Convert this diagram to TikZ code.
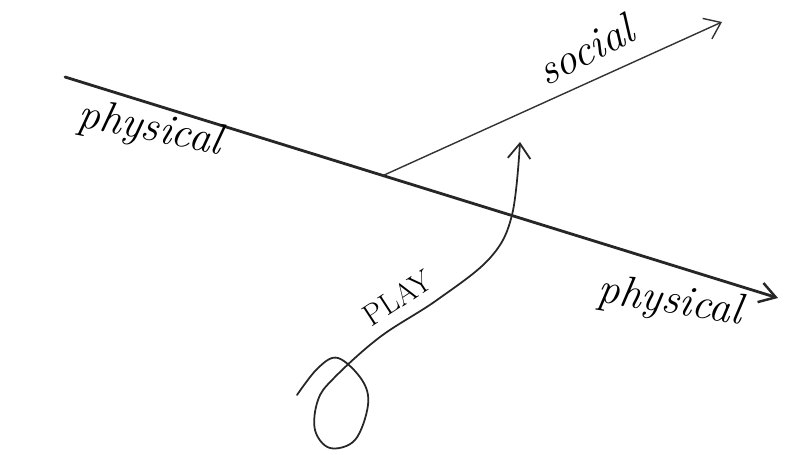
\documentclass[tikz,border=0pt]{standalone}
\usepackage{tikz}
\usetikzlibrary{arrows.meta,calc}
\tikzset{
    every node/.append style={align=center},
    axis/.style={-{Straight Barb[length=3.2mm,width=4mm,line width=1.4pt]},line width=1.6pt,black!85,line cap=round},
    arr/.style={-{Straight Barb[length=3mm,width=4.5mm]},line width=0.8pt,black!80,line cap=round},
    playline/.style={-{Straight Barb[length=3mm,width=4.5mm]},line width=1pt,black!85,line cap=round},
    lbl/.style={font=\Huge\itshape,inner sep=1pt},
    caps/.style={font=\LARGE,inner sep=1pt}
}
\begin{document}
\begin{tikzpicture}
    \useasboundingbox[fill=white] (0,0) rectangle (15.9,9.1);
    \coordinate (physL) at (1.30,7.56);
    \coordinate (physR) at (15.56,3.14);
    \coordinate (origin) at ($(physL)!0.446!(physR)$);
    \coordinate (socEnd) at (14.44,8.66);
    \coordinate (playStart) at (5.94,1.20);
    \coordinate (playEnd) at (10.40,6.26);

    \draw[axis] (physL) -- (physR);
    \draw[arr] (origin) -- (socEnd);
    \draw[playline] plot[smooth,tension=0.6] coordinates {(playStart) (6.36,1.74) (6.76,1.94) (7.24,1.50) (7.36,1.00) (7.10,0.30) (6.60,0.14) (6.30,0.50) (6.36,1.10) (6.68,1.54) (7.60,2.36) (8.74,3.10) (9.80,3.94) (10.24,4.80) (playEnd)};

    \node[lbl,rotate=-11] (physLeft) at (3.00,6.50) {physical};
    \node[lbl,rotate=-9] (physRight) at (13.40,3.05) {physical};
    \node[lbl,rotate=27] (socLbl) at (11.70,8.10) {social};
    \node[caps,rotate=33] (playLbl) at (7.95,3.15) {PLAY};
\end{tikzpicture}
\end{document}
